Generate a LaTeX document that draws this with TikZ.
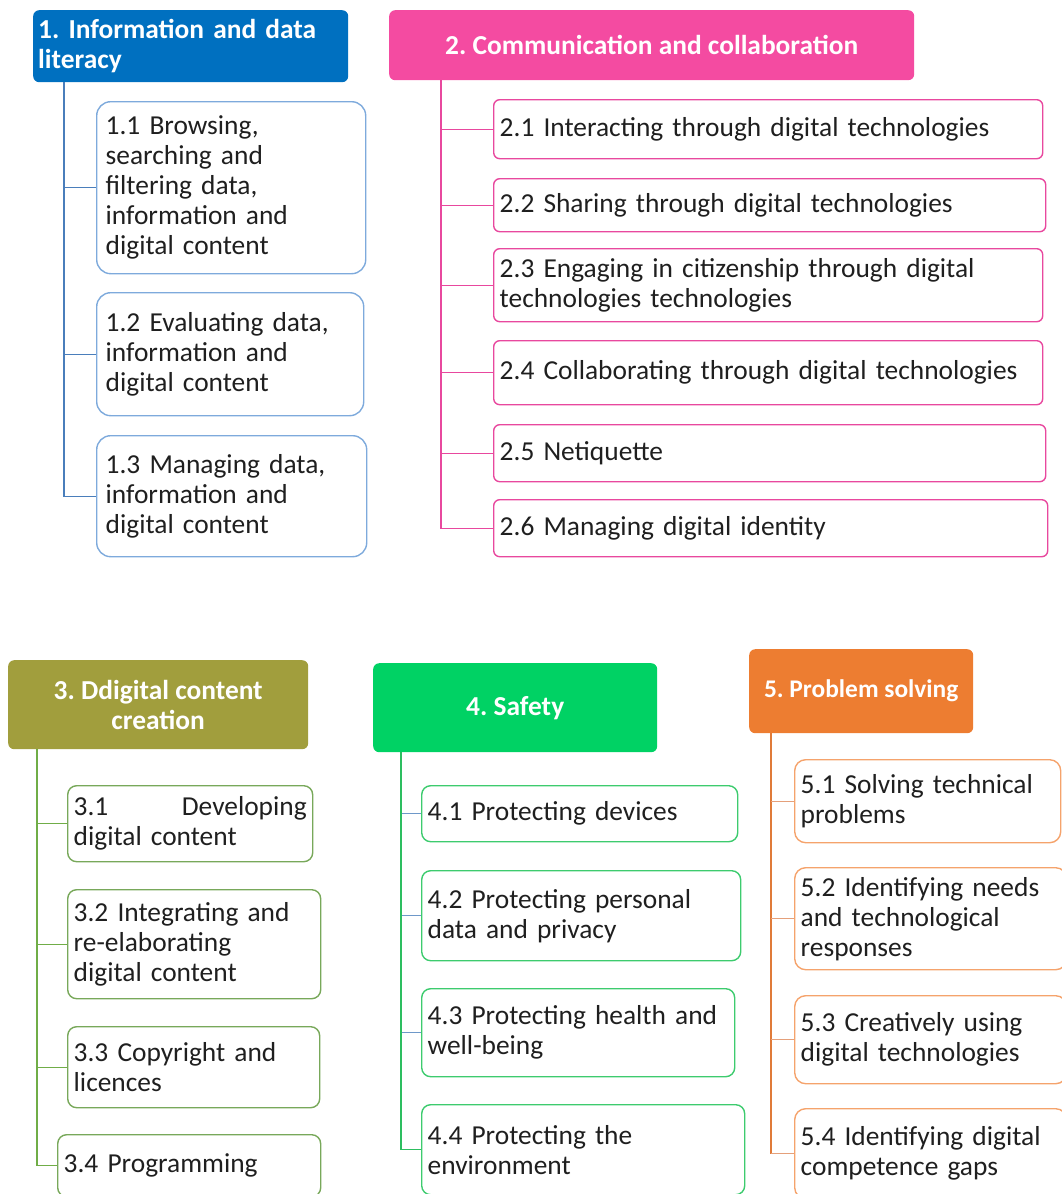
\documentclass[tikz,border=0pt]{standalone}
\usepackage{fontspec}
\setmainfont{Carlito}
\frenchspacing
\definecolor{hblue}{HTML}{0070C0}
\definecolor{bblue}{HTML}{7EAADC}
\definecolor{tblue}{HTML}{4A7EBB}
\definecolor{hpink}{HTML}{F44BA1}
\definecolor{bpink}{HTML}{E8489E}
\definecolor{holive}{HTML}{A19E3D}
\definecolor{bolive}{HTML}{78A85A}
\definecolor{tolive}{HTML}{70AD47}
\definecolor{hgreen}{HTML}{00D264}
\definecolor{bgreen}{HTML}{3DCB6E}
\definecolor{tgreen}{HTML}{2DBE60}
\definecolor{horange}{HTML}{ED7D31}
\definecolor{borange}{HTML}{F5A36C}
\definecolor{torange}{HTML}{E07B39}
\definecolor{brorange}{HTML}{E5A07A}
\definecolor{txt}{HTML}{1F1F1F}
\tikzset{
  head/.style={anchor=north west, rounded corners=6pt, inner sep=0pt, text=white,
     font=\fontsize{27.4}{30}\selectfont\bfseries\frenchspacing},
  item/.style={anchor=north west, draw, line width=1.4pt, inner ysep=0pt, inner xsep=6pt,
     align=left, text=txt, font=\fontsize{27.4}{30}\selectfont\frenchspacing},
  it1/.style={item, draw=bblue, rounded corners=14pt, inner xsep=9pt},
  it2/.style={item, draw=bpink, rounded corners=6pt},
  it3/.style={item, draw=bolive, rounded corners=9pt},
  it4/.style={item, draw=bgreen, rounded corners=9pt},
  it5/.style={item, draw=borange, rounded corners=11pt},
  ln/.style={line width=1.4pt},
}
\begin{document}
\begin{tikzpicture}[x=1pt,y=-1pt]
\useasboundingbox (0,0) rectangle (1062,1194);

% ---------- 1 ----------
\node[head, fill=hblue, minimum width=315, minimum height=72, text width=305, align=left, inner xsep=5pt] (h1) at (33,10) {1. Information and data\\literacy};
\node[it1, minimum width=269, minimum height=172, text width=251] (b11) at (96,101) {1.1 Browsing,\\searching and\\filtering data,\\information and\\digital content};
\node[it1, minimum width=267, minimum height=123, text width=249] (b12) at (96,292) {1.2 Evaluating data,\\information and\\digital content};
\node[it1, minimum width=270, minimum height=121, text width=252] (b13) at (96,435) {1.3 Managing data,\\information and\\digital content};
\coordinate (t1) at (64,82);
\draw[ln, tblue] (t1) |- (b11.west);
\draw[ln, tblue] (t1) |- (b12.west);
\draw[ln, tblue] (t1) |- (b13.west);

% ---------- 2 ----------
\node[head, fill=hpink, minimum width=525, minimum height=70, align=center] (h2) at (389,10) {2. Communication and collaboration};
\node[it2, minimum width=549, minimum height=59, text width=537] (b21) at (493,99) {2.1 Interacting through digital technologies};
\node[it2, minimum width=552, minimum height=53, text width=540] (b22) at (493,178) {2.2 Sharing through digital technologies};
\node[it2, minimum width=549, minimum height=73, text width=537] (b23) at (493,248) {2.3 Engaging in citizenship through digital\\technologies technologies};
\node[it2, minimum width=549, minimum height=64, text width=537] (b24) at (493,340) {2.4 Collaborating through digital technologies};
\node[it2, minimum width=552, minimum height=57, text width=540] (b25) at (493,424) {2.5 Netiquette};
\node[it2, minimum width=554, minimum height=57, text width=542] (b26) at (493,499) {2.6 Managing digital identity};
\coordinate (t2) at (441,80);
\foreach \b in {b21,b22,b23,b24,b25,b26} \draw[ln, bpink] (t2) |- (\b.west);

% ---------- 3 ----------
\node[head, fill=holive, minimum width=300, minimum height=89, align=center] (h3) at (8,660) {3. Ddigital content\\creation};
\node[it3, minimum width=245, minimum height=76, text width=233] (b31) at (67,785) {3.1\hfill Developing\\digital content};
\node[it3, minimum width=253, minimum height=109, text width=241] (b32) at (67,889) {3.2 Integrating and\\re-elaborating\\digital content};
\node[it3, minimum width=252, minimum height=81, text width=240] (b33) at (67,1026) {3.3 Copyright and\\licences};
\node[it3, minimum width=263, minimum height=62, text width=251] (b34) at (57,1134) {3.4 Programming};
\coordinate (t3) at (37,749);
\foreach \b in {b31,b32,b33,b34} \draw[ln, tolive] (t3) |- (\b.west);

% ---------- 4 ----------
\node[head, fill=hgreen, minimum width=284, minimum height=89, align=center] (h4) at (373,663) {4. Safety};
\node[it4, minimum width=316, minimum height=56, text width=304] (b41) at (421,785) {4.1 Protecting devices};
\node[it4, minimum width=319, minimum height=90, text width=307] (b42) at (421,870) {4.2 Protecting personal\\data and privacy};
\node[it4, minimum width=313, minimum height=88, text width=301] (b43) at (421,988) {4.3 Protecting health and\\well-being};
\node[it4, minimum width=323, minimum height=90, text width=311] (b44) at (421,1104) {4.4 Protecting the\\environment};
\coordinate (t4) at (401,752);
\draw[ln, tgreen] (t4) -- (t4 |- b44.west);
\foreach \b in {b41,b42,b43} \draw[line width=1.1pt, tblue!80] (t4 |- \b.west) -- (\b.west);
\draw[ln, tgreen] (t4) |- (b44.west);

% ---------- 5 ----------
\node[head, fill=horange, minimum width=224, minimum height=84, align=center] (h5) at (749,649) {\fontsize{25.4}{28}\selectfont 5. Problem solving};
\node[it5, minimum width=266, minimum height=83, text width=254] (b51) at (794,759) {5.1 Solving technical\\problems};
\node[it5, minimum width=272, minimum height=102, text width=260] (b52) at (794,867) {5.2 Identifying needs\\and technological\\responses};
\node[it5, minimum width=272, minimum height=88, text width=260] (b53) at (794,995) {5.3 Creatively using\\digital technologies};
\node[it5, minimum width=272, minimum height=90, text width=260] (b54) at (794,1108) {5.4 Identifying digital\\competence gaps};
\coordinate (t5) at (771,733);
\draw[ln, torange] (t5) -- (t5 |- b54.west);
\foreach \b in {b51,b52,b53,b54} \draw[ln, brorange] (t5 |- \b.west) -- (\b.west);
\end{tikzpicture}
\end{document}
